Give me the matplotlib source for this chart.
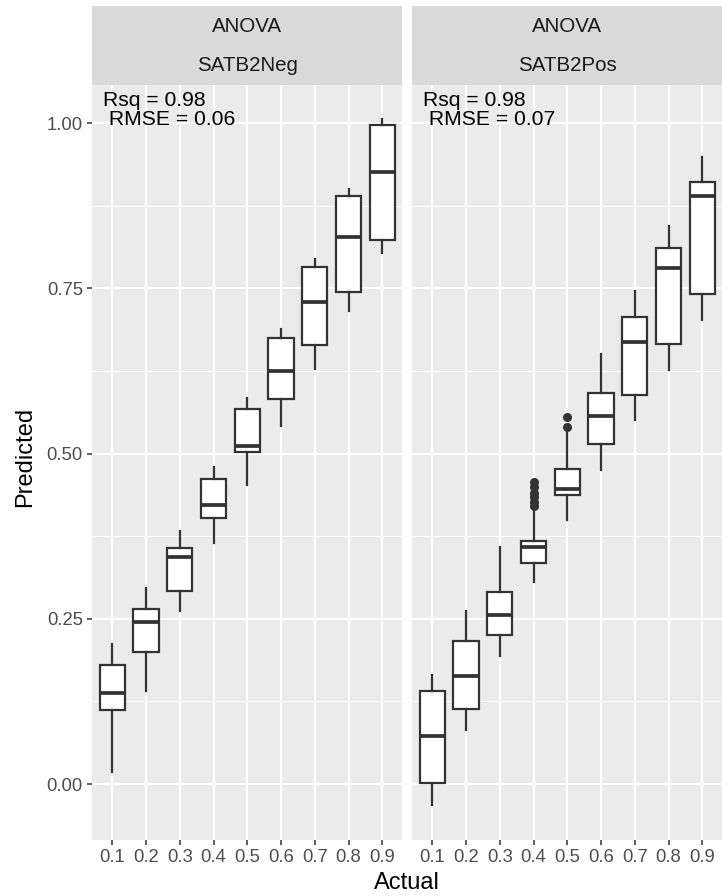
import matplotlib
matplotlib.use("Agg")
import matplotlib.pyplot as plt
from matplotlib.patches import Rectangle

plt.rcParams['font.family'] = ['Liberation Sans', 'DejaVu Sans']

actual_labels = ['0.1', '0.2', '0.3', '0.4', '0.5', '0.6', '0.7', '0.8', '0.9']
model_name = 'ANOVA'

# SATB2Neg boxplot summaries (one value per actual level)
neg_whislo = [0.018, 0.141, 0.262, 0.364, 0.452, 0.541, 0.628, 0.716, 0.804]
neg_q1 = [0.112, 0.200, 0.292, 0.403, 0.502, 0.583, 0.664, 0.744, 0.823]
neg_med = [0.138, 0.245, 0.343, 0.422, 0.512, 0.625, 0.729, 0.828, 0.926]
neg_q3 = [0.180, 0.265, 0.357, 0.461, 0.567, 0.674, 0.782, 0.890, 0.997]
neg_whishi = [0.212, 0.297, 0.383, 0.479, 0.584, 0.689, 0.794, 0.900, 1.006]
neg_fliers = [[], [], [], [], [], [], [], [], []]

# SATB2Pos boxplot summaries
pos_whislo = [-0.031, 0.082, 0.194, 0.306, 0.400, 0.475, 0.551, 0.626, 0.702]
pos_q1 = [0.001, 0.114, 0.226, 0.335, 0.437, 0.514, 0.589, 0.666, 0.741]
pos_med = [0.072, 0.164, 0.255, 0.359, 0.446, 0.557, 0.668, 0.780, 0.890]
pos_q3 = [0.141, 0.216, 0.290, 0.368, 0.477, 0.591, 0.706, 0.811, 0.911]
pos_whishi = [0.165, 0.262, 0.359, 0.412, 0.533, 0.650, 0.746, 0.844, 0.949]
pos_fliers = [[], [], [], [0.420, 0.427, 0.434, 0.441, 0.449, 0.457],
              [0.540, 0.555], [], [], [], []]

panels = [
    ('SATB2Neg', 'Rsq = 0.98\n RMSE = 0.06',
     neg_whislo, neg_q1, neg_med, neg_q3, neg_whishi, neg_fliers),
    ('SATB2Pos', 'Rsq = 0.98\n RMSE = 0.07',
     pos_whislo, pos_q1, pos_med, pos_q3, pos_whishi, pos_fliers),
]

W, H = 722, 896
fig = plt.figure(figsize=(W / 100, H / 100), dpi=100)

panel_left = [92, 412]
panel_w = 310.5
panel_top, panel_bot = 85, 840
strip_top = 6

dark = '#333333'

for i, (name, note, wlo, q1, med, q3, whi, fl) in enumerate(panels):
    x0 = panel_left[i]
    ax = fig.add_axes([x0 / W, (H - panel_bot) / H, panel_w / W,
                       (panel_bot - panel_top) / H])
    ax.set_facecolor('#EBEBEB')
    for s in ax.spines.values():
        s.set_visible(False)

    stats = []
    for k in range(len(actual_labels)):
        stats.append(dict(whislo=wlo[k], q1=q1[k], med=med[k], q3=q3[k],
                          whishi=whi[k], fliers=fl[k]))
    pos = list(range(1, len(actual_labels) + 1))
    ax.bxp(stats, positions=pos, widths=0.75, patch_artist=True,
           showcaps=False,
           boxprops=dict(facecolor='white', edgecolor=dark, linewidth=1.6),
           medianprops=dict(color=dark, linewidth=2.7, solid_capstyle='butt'),
           whiskerprops=dict(color=dark, linewidth=1.6),
           flierprops=dict(marker='o', markerfacecolor=dark,
                           markeredgecolor=dark, markersize=5.5),
           zorder=3)

    ax.set_xlim(0.4, 9.6)
    ax.set_ylim(-0.0847, 1.0575)
    ax.set_xticks(pos)
    ax.set_xticklabels(actual_labels)
    ax.set_yticks([0, 0.25, 0.5, 0.75, 1.0])
    ax.set_yticklabels(['0.00', '0.25', '0.50', '0.75', '1.00'])
    ax.set_yticks([0.125, 0.375, 0.625, 0.875], minor=True)
    ax.grid(True, which='major', color='white', linewidth=1.4, zorder=0)
    ax.grid(True, which='minor', axis='y', color='white', linewidth=0.7,
            zorder=0)
    ax.set_axisbelow(True)
    ax.tick_params(axis='both', which='major', length=3.5, width=1.1,
                   color=dark, labelcolor='#4D4D4D', labelsize=13.3, pad=3)
    ax.tick_params(axis='y', which='minor', length=0)
    if i > 0:
        ax.tick_params(axis='y', which='both', left=False, labelleft=False)

    ax.text(0.73, 1.02, note, ha='left', va='center', fontsize=15.2,
            color='black', linespacing=1.0, zorder=4)

    # facet strips: model row on top, cell type row below
    sax = fig.add_axes([x0 / W, (H - panel_top) / H, panel_w / W,
                        (panel_top - strip_top) / H])
    sax.set_axis_off()
    sax.add_patch(Rectangle((0, 0), 1, 1, transform=sax.transAxes,
                            facecolor='#D9D9D9', edgecolor='none'))
    sax.text(0.5, 0.74, model_name, ha='center', va='center',
             fontsize=14.8, color='#1A1A1A', transform=sax.transAxes)
    sax.text(0.5, 0.25, name, ha='center', va='center',
             fontsize=14.8, color='#1A1A1A', transform=sax.transAxes)

fig.text(407 / W, 1 - 883 / H, 'Actual', ha='center', va='center',
         fontsize=17, color='black')
fig.text(25 / W, 1 - 457 / H, 'Predicted', ha='center', va='center',
         rotation=90, fontsize=17, color='black')

fig.savefig('out.png', dpi=100)
